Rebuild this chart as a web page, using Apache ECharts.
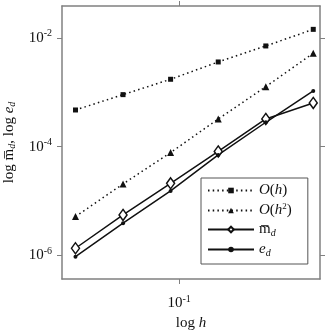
<!DOCTYPE html>
<html>
<head>
<meta charset="UTF-8">
<title>convergence</title>
<style>
  html, body { margin: 0; padding: 0; background: #fff; }
  #chart { width: 327px; height: 333px; }
</style>
</head>
<body>
<div id="chart"></div>
<script src="https://cdn.jsdelivr.net/npm/echarts@6/dist/echarts.min.js"></script>
<script>
// step sizes and errors
var hVals = [0.0221, 0.0442, 0.0884, 0.177, 0.354, 0.707];
var orderH = [4.74e-4, 9.08e-4, 1.74e-3, 3.62e-3, 7.13e-3, 1.44e-2];
var orderH2 = [5.19e-6, 2.07e-5, 7.8e-5, 3.24e-4, 1.27e-3, 5.24e-3];
var mBar = [1.36e-6, 5.57e-6, 2.13e-5, 8.2e-5, 3.24e-4, 6.38e-4];
var eD = [9.5e-7, 3.93e-6, 1.54e-5, 7.06e-5, 2.82e-4, 1.06e-3];

var xTicks = [0.1];
var yTicks = [1e-6, 1e-4, 1e-2];

var xMin = 0.01816, xMax = 0.78;
var yMin = 3.7e-7, yMax = 0.0387;

var serif = 'Liberation Serif';
var ink = '#111';
var frame = '#808080';

function pairs(ys) {
  return hVals.map(function (h, i) { return [h, ys[i]]; });
}

function powLabel(v) {
  var e = Math.round(Math.log10(v));
  return '{b|10}{p|' + e + '}';
}
var powRich = {
  b: { fontFamily: serif, fontSize: 15, color: ink },
  p: { fontFamily: serif, fontSize: 10, color: ink, padding: [0, 0, 9, 0] }
};

function frameAxis(ticks, extra) {
  var ax = {
    type: 'log',
    axisLine: { show: true, lineStyle: { color: frame, width: 1.5 } },
    axisTick: { show: true, inside: false, length: 5, customValues: ticks, lineStyle: { color: frame, width: 1 } },
    splitLine: { show: false },
    minorTick: { show: false },
    axisLabel: { show: false }
  };
  for (var k in extra) ax[k] = extra[k];
  return ax;
}

var txt = { fontFamily: serif, fontSize: 15, color: ink };
var txtI = { fontFamily: serif, fontSize: 15, color: ink, fontStyle: 'italic' };
var sub = { fontFamily: serif, fontSize: 10, color: ink, fontStyle: 'italic', padding: [7, 0, 0, 0] };
var sup = { fontFamily: serif, fontSize: 9, color: ink, padding: [0, 0, 8, 0] };

var legendText = {
  'O(h)': '{i|O}{t|(}{i|h}{t|)}',
  'O(h2)': '{i|O}{t|(}{i|h}{p|2}{t|)}',
  'mbar': '{t|m\u0305}{s|d}',
  'ed': '{i|e}{s|d}'
};

var myChart = echarts.init(document.getElementById('chart'));

var option = {
  animation: false,
  backgroundColor: '#fff',
  grid: { left: 62, right: 7, top: 6, bottom: 54, outerBoundsMode: 'none', containLabel: false },
  xAxis: [
    frameAxis(xTicks, {
      position: 'bottom', min: xMin, max: xMax,
      name: '{t|log }{i|h}', nameLocation: 'middle', nameGap: 36,
      nameTextStyle: { rich: { t: txt, i: txtI } },
      axisLabel: {
        show: true, margin: 15, customValues: xTicks,
        formatter: powLabel, rich: powRich
      }
    }),
    frameAxis(xTicks, { position: 'top', min: xMin, max: xMax })
  ],
  yAxis: [
    frameAxis(yTicks, {
      position: 'left', min: yMin, max: yMax,
      name: '{t|log }{t|m\u0305}{s|d}{t|, log }{i|e}{s|d}',
      nameLocation: 'middle', nameGap: 42,
      nameTextStyle: { rich: { t: txt, i: txtI, s: sub } },
      axisLabel: {
        show: true, margin: 10, customValues: yTicks,
        formatter: powLabel, rich: powRich
      }
    }),
    frameAxis(yTicks, { position: 'right', min: yMin, max: yMax })
  ],
  legend: {
    orient: 'vertical',
    left: 201, top: 178,
    padding: [5, 16, 6, 6],
    itemGap: 4,
    itemWidth: 46, itemHeight: 7,
    borderColor: '#555', borderWidth: 1, backgroundColor: '#fff',
    data: ['O(h)', 'O(h2)', 'mbar', 'ed'],
    formatter: function (name) { return legendText[name]; },
    textStyle: { rich: { t: txt, i: txtI, s: sub, p: sup } }
  },
  series: [
    {
      name: 'O(h)', type: 'line', data: pairs(orderH),
      symbol: 'rect', symbolSize: 5,
      lineStyle: { color: ink, width: 1.5, type: [1.5, 3.2] },
      itemStyle: { color: ink }
    },
    {
      name: 'O(h2)', type: 'line', data: pairs(orderH2),
      symbol: 'triangle', symbolSize: 7,
      lineStyle: { color: ink, width: 1.5, type: [1.5, 3.2] },
      itemStyle: { color: ink }
    },
    {
      name: 'mbar', type: 'line', data: pairs(mBar),
      symbol: 'diamond', symbolSize: [8, 11],
      lineStyle: { color: ink, width: 1.5 },
      itemStyle: { color: '#fff', borderColor: ink, borderWidth: 1.5 }
    },
    {
      name: 'ed', type: 'line', data: pairs(eD),
      symbol: 'circle', symbolSize: 4,
      lineStyle: { color: ink, width: 1.5 },
      itemStyle: { color: ink }
    }
  ]
};

myChart.setOption(option);
</script>
</body>
</html>
